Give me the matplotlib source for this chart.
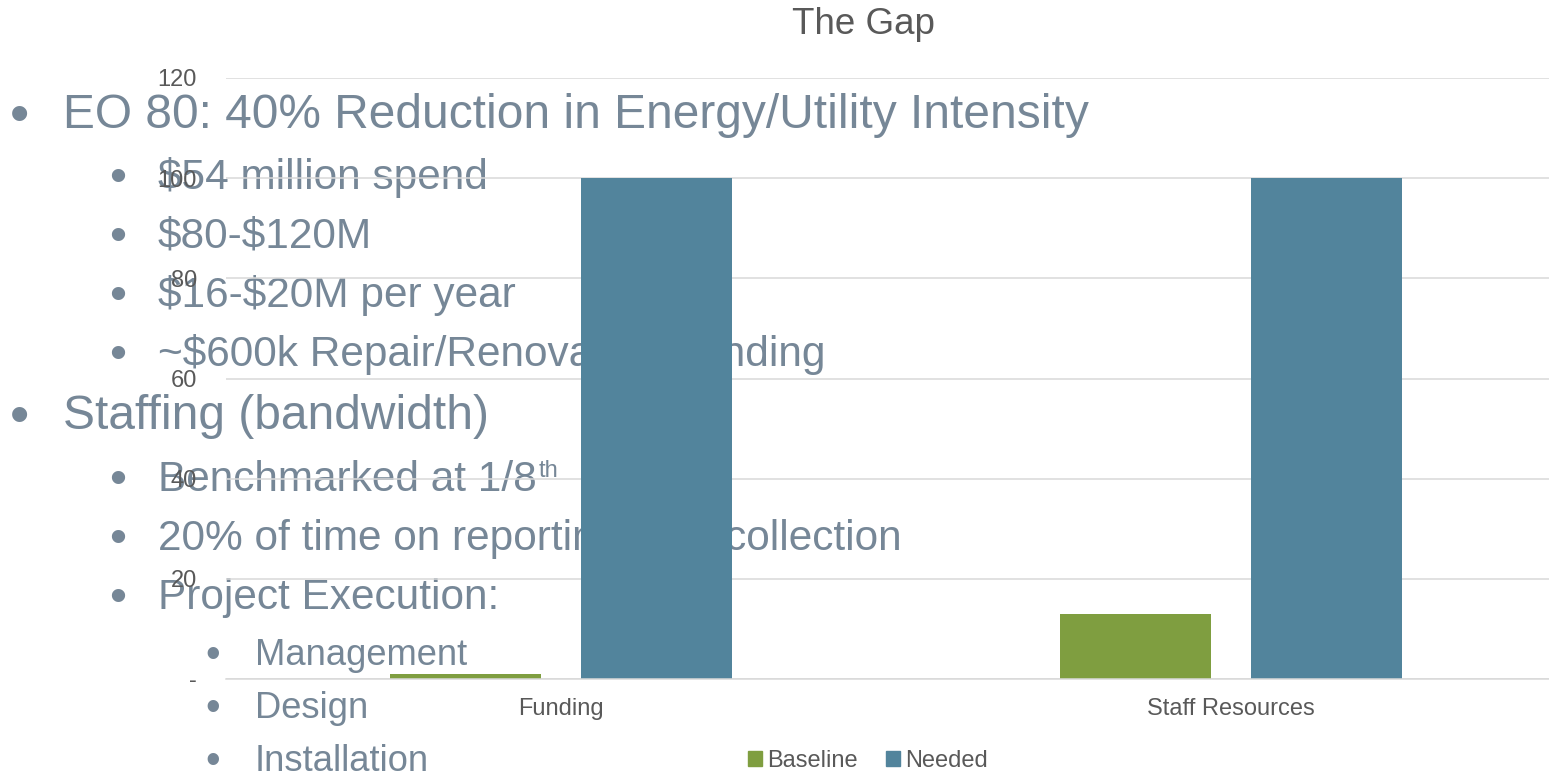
"""The Gap: baseline vs needed, with the slide's bullet text behind the chart."""
import matplotlib
matplotlib.use("Agg")
import matplotlib.pyplot as plt
from matplotlib.patches import Patch

plt.rcParams["font.family"] = ["Liberation Sans", "DejaVu Sans"]

categories = ["Funding", "Staff Resources"]
baseline = [1, 13]
needed = [100, 100]
y_ticks = [0, 20, 40, 60, 80, 100, 120]
y_tick_labels = ["-", "20", "40", "60", "80", "100", "120"]

# (level, text, baseline y in px)
bullets = [
    (0, "EO 80: 40% Reduction in Energy/Utility Intensity", 128),
    (1, "$54 million spend", 189),
    (1, "$80-$120M", 248),
    (1, "$16-$20M per year", 307),
    (1, "~$600k Repair/Renovation Funding", 366),
    (0, "Staffing (bandwidth)", 429),
    (1, "Benchmarked at 1/8", 491),
    (1, "20% of time on reporting/data collection", 550),
    (1, "Project Execution:", 609),
    (2, "Management", 665),
    (2, "Design", 718),
    (2, "Installation", 771),
]

W, H = 1549, 774
GREEN = "#7F9E40"
BLUE = "#52849C"
TXT = "#768797"
GREY = "#595959"

fig = plt.figure(figsize=(W / 100, H / 100), dpi=100)
fig.patch.set_facecolor("white")

ax = fig.add_axes([226 / W, (H - 679) / H, 1340 / W, 601 / H])
ax.patch.set_alpha(0)

x = list(range(len(categories)))
bw = 0.224
off = 0.1425
ax.bar([i - off for i in x], baseline, bw, color=GREEN, label="Baseline", zorder=2)
ax.bar([i + off for i in x], needed, bw, color=BLUE, label="Needed", zorder=2)

ax.set_xlim(-0.5, 1.5)
ax.set_ylim(0, 120)
ax.set_yticks(y_ticks)
ax.set_yticklabels(y_tick_labels)
ax.set_xticks(x)
ax.set_xticklabels(categories)
ax.tick_params(axis="y", length=0, pad=21, labelsize=17, labelcolor=GREY)
ax.tick_params(axis="x", length=0, pad=14, labelsize=17, labelcolor=GREY)
ax.grid(axis="y", color="#D9D9D9", linewidth=1.1)
ax.set_axisbelow(True)
for s in ["top", "right", "left"]:
    ax.spines[s].set_visible(False)
ax.spines["bottom"].set_color("#D9D9D9")
ax.spines["bottom"].set_linewidth(1.1)

fig.text(863 / W, 1 - 25 / H, "The Gap", ha="center", va="center",
         fontsize=26.5, color=GREY)

fig.legend(handles=[Patch(color=GREEN, label="Baseline"),
                    Patch(color=BLUE, label="Needed")],
           loc="center", bbox_to_anchor=(868 / W, 1 - 761 / H), ncol=2,
           frameon=False, fontsize=17, labelcolor=GREY,
           handlelength=0.6, handleheight=0.6, handletextpad=0.2,
           columnspacing=1.2)

# bullet text sits behind the axes (bars cover parts of it)
# level: (bullet x, text x, font size, bullet drop px)
levels = {0: (20, 63, 34.5, 4), 1: (118, 158, 30.5, 2), 2: (213, 255, 26.2, 2)}
renderer = fig.canvas.get_renderer()
for lvl, txt, yb in bullets:
    bx, tx, size, drop = levels[lvl]
    fig.text(bx / W, 1 - (yb + drop) / H, "\u2022", ha="center", va="baseline",
             fontsize=size * 1.15, color=TXT, zorder=-1)
    t = fig.text(tx / W, 1 - yb / H, txt, ha="left", va="baseline",
                 fontsize=size, color=TXT, zorder=-1, parse_math=False)
    if txt.endswith("1/8"):
        bb = t.get_window_extent(renderer)
        fig.text((bb.x1 + 2) / W, 1 - (yb - 14) / H, "th", ha="left",
                 va="baseline", fontsize=17, color=TXT, zorder=-1)

fig.savefig("out.png", dpi=100)
